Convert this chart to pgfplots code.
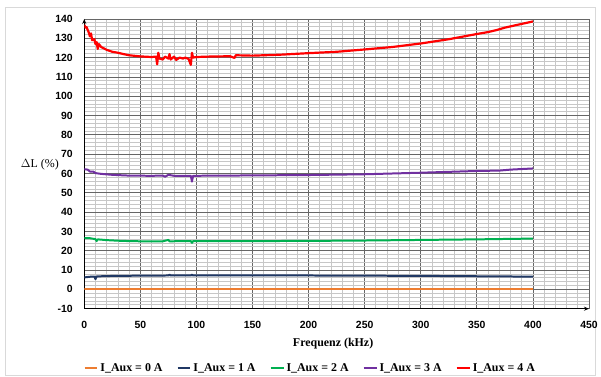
\documentclass[border=0pt]{standalone}
\usepackage{fontspec}
\setmainfont{Liberation Serif}
\newfontfamily\arialfont{Liberation Sans}
\usepackage{pgfplots}
\pgfplotsset{compat=1.18}
\usetikzlibrary{arrows.meta}
\definecolor{cOrange}{RGB}{237,125,49}
\definecolor{cNavy}{RGB}{32,56,100}
\definecolor{cGreen}{RGB}{0,176,80}
\definecolor{cPurple}{RGB}{112,48,160}
\definecolor{cRed}{RGB}{255,0,0}
\begin{document}
\begin{tikzpicture}[x=1bp,y=1bp]
\path (0,0) rectangle (601,377);
\draw[color=black!15, line width=0.8bp] (5,1) rectangle (597,370);
\begin{axis}[
  at={(84.5bp,67.5bp)}, anchor=south west,
  scale only axis, width=506bp, height=290.5bp,
  xmin=0, xmax=450, ymin=-10, ymax=140,
  xtick={0,50,...,450}, ytick={-10,0,...,140},
  minor x tick num=4, minor y tick num=4,
  grid=both,
  major grid style={color=black!60, line width=0.8bp},
  minor grid style={color=black!22, line width=0.8bp},
  axis lines=left,
  axis line style={line width=1.2bp, -{Stealth[length=5bp,width=4bp]}},
  major tick length=0pt, minor tick length=0pt,
  /pgf/number format/assume math mode=true,
  tick label style={font=\arialfont\bfseries\fontsize{10.5}{12}\selectfont},
  xticklabel style={yshift=-9bp},
  yticklabel style={xshift=-8bp},
  xlabel={\textbf{Frequenz (kHz)}},
  xlabel style={at={(axis description cs:0.493,-0.119)}, anchor=center, font=\fontsize{12}{14}\selectfont},
  ylabel={$\Delta$L (\%)},
  ylabel style={at={(axis description cs:-0.088,0.497)}, anchor=center, rotate=-90, font=\fontsize{12}{14}\selectfont},
  legend columns=5,
  legend style={at={(axis description cs:0.4476,-0.205)}, anchor=center, draw=none, fill=none,
    font=\bfseries\fontsize{12}{14}\selectfont,
    /tikz/every odd column/.append style={column sep=0bp},
    /tikz/every even column/.append style={column sep=12bp}},
  legend image code/.code={\draw[#1] (0bp,0bp) -- (13bp,0bp);},
]
\addplot[color=cOrange, line width=2bp, line join=round] coordinates {(0,0) (400,0)};
\addlegendentry{I\_Aux = 0 A}
\addplot[color=cNavy, line width=2bp, line join=round] coordinates {
(0,6.2) (3,6.4) (6,6.6) (9,6.6) (10,5.3) (11,6.7) (15,6.8) (20,6.9) (30,7.0) (50,7.1)
(75,7.2) (76,7.6) (77,7.2) (95,7.2) (96,7.6) (97,7.2) (150,7.2) (200,7.2) (250,7.1)
(300,7.0) (350,6.8) (400,6.6)};
\addlegendentry{I\_Aux = 1 A}
\addplot[color=cGreen, line width=2bp, line join=round] coordinates {
(0,26.6) (3,26.5) (5,26.5) (10,26.0) (11,25.0) (12,25.9) (20,25.5) (30,25.2) (40,25.0)
(50,24.9) (70,24.9) (75,25.6) (76,24.9) (95,25.0) (96,24.1) (97,25.0) (150,25.0)
(200,25.1) (250,25.3) (300,25.6) (350,25.9) (400,26.3)};
\addlegendentry{I\_Aux = 2 A}
\addplot[color=cPurple, line width=2bp, line join=round] coordinates {
(0,62.2) (3,62.0) (5,61.0) (8,61.0) (10,60.2) (15,59.8) (25,59.3) (40,58.9) (60,58.8)
(70,58.9) (72,58.3) (75,59.3) (80,58.8) (95,58.8) (96,55.8) (97,58.8) (150,59.0)
(200,59.2) (250,59.6) (300,60.4) (350,61.3) (370,61.5) (380,62.0) (400,62.6)};
\addlegendentry{I\_Aux = 3 A}
\addplot[color=cRed, line width=2.2bp, line join=round] coordinates {
(0,137) (1,135.5) (2,135.8) (4,133) (5,131) (6,132.5) (7,129) (9,129.5) (10,127)
(11,128) (12,124.5) (13,127) (15,125.5) (20,124) (25,123) (30,122.5) (35,121.8)
(40,121.2) (50,120.6) (60,120.3) (64,120.5) (65,116.5) (66,122.5) (67,119.5) (70,119)
(72,120.5) (75,119.5) (76,121.8) (77,119) (80,120.5) (82,118.8) (85,120) (88,119.5)
(90,120) (93,119.3) (95,116.2) (96,122.5) (97,120) (100,120.3) (110,120.5) (130,120.7)
(134,119.8) (135,121.2) (150,121.0) (175,121.5) (200,122.3) (225,123) (250,124.2)
(275,125.5) (300,127.3) (325,129.5) (350,132.2) (360,133.2) (368,134.3) (375,135.5)
(385,136.8) (400,138.7)};
\addlegendentry{I\_Aux = 4 A}
\end{axis}
\end{tikzpicture}
\end{document}
